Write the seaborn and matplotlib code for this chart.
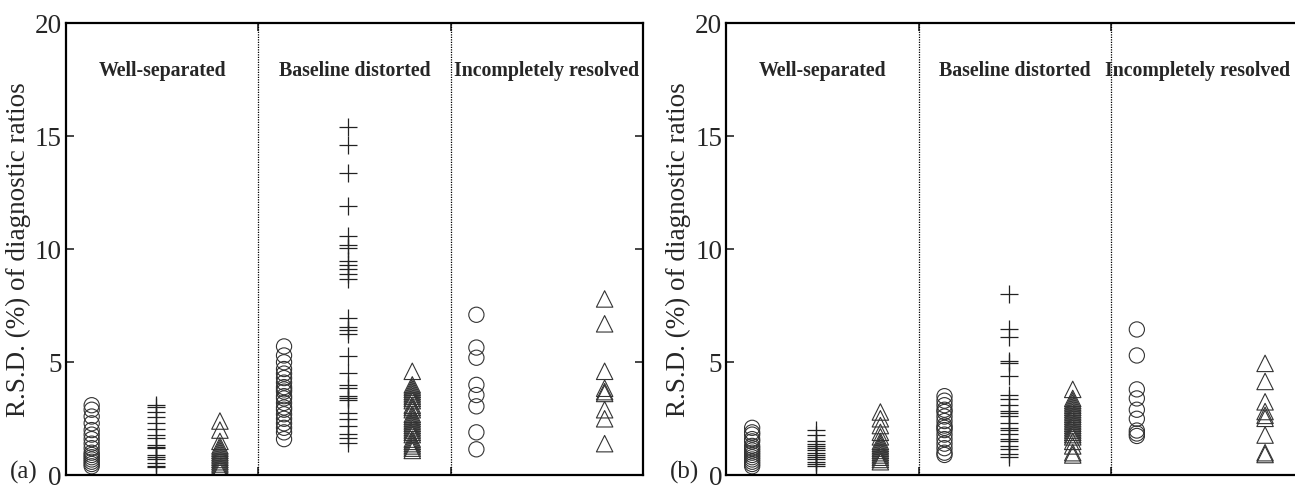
import numpy as np
import pandas as pd
import matplotlib
matplotlib.use("Agg")
import matplotlib.pyplot as plt
import seaborn as sns

# group titles and marker series (R.S.D. %)
groups = ["Well-separated", "Baseline distorted", "Incompletely resolved"]

# panel (a)
a_well_circ = [3.1, 2.9, 2.6, 2.3, 2.0, 1.8, 1.6, 1.4, 1.2, 1.0, 0.9, 0.8, 0.7, 0.6, 0.5, 0.4]
a_well_plus = [3.1, 3.0, 2.8, 2.6, 2.3, 2.05, 1.8, 1.67, 1.32, 1.27, 1.19, 0.92, 0.79, 0.72, 0.53, 0.42, 0.35]
a_well_tri = [2.4, 2.0, 1.5, 1.3, 1.2, 1.1, 1.0, 0.9, 0.8, 0.7, 0.6, 0.5, 0.4, 0.3, 0.2]
a_base_circ = [5.7, 5.3, 5.0, 4.7, 4.5, 4.3, 4.1, 3.9, 3.8, 3.7, 3.5, 3.4, 3.2, 3.0, 2.9,
               2.7, 2.5, 2.3, 2.1, 1.9, 1.6]
a_base_plus = [15.4, 14.6, 13.36, 11.9, 10.6, 10.2, 10.05, 9.5, 9.29, 9.11, 8.92, 8.7,
               6.97, 6.58, 6.43, 6.24, 5.29, 4.53, 4.01, 3.87, 3.5, 3.43, 3.35, 2.77,
               2.48, 2.18, 1.82, 1.67, 1.45]
a_base_tri = [4.6, 4.0, 3.9, 3.8, 3.7, 3.6, 3.5, 3.4, 3.3, 3.1, 3.0, 2.9, 2.7, 2.6, 2.5,
              2.4, 2.3, 2.2, 2.1, 2.0, 1.9, 1.8, 1.6, 1.5, 1.4, 1.3, 1.2, 1.1]
a_inc_circ = [7.1, 5.65, 5.2, 4.0, 3.55, 3.05, 1.9, 1.15]
a_inc_tri = [7.8, 6.7, 4.6, 3.85, 3.7, 3.62, 2.9, 2.5, 1.4]

# panel (b)
b_well_circ = [2.1, 1.9, 1.8, 1.6, 1.5, 1.3, 1.2, 1.1, 1.0, 0.9, 0.8, 0.7, 0.6, 0.5, 0.4]
b_well_plus = [2.0, 1.8, 1.5, 1.4, 1.3, 1.2, 1.1, 1.0, 0.9, 0.8, 0.7, 0.6, 0.5, 0.4]
b_well_tri = [2.8, 2.5, 2.2, 1.9, 1.7, 1.5, 1.4, 1.3, 1.2, 1.1, 1.0, 0.9, 0.8, 0.7, 0.6]
b_base_circ = [3.5, 3.3, 3.1, 2.9, 2.8, 2.6, 2.4, 2.2, 2.1, 2.0, 1.8, 1.6, 1.4, 1.2, 1.0, 0.9]
b_base_plus = [8.0, 6.46, 6.1, 5.07, 4.97, 4.38, 3.57, 3.36, 3.13, 2.84, 2.74, 2.62, 2.33,
               2.11, 1.99, 1.82, 1.6, 1.52, 1.3, 1.16, 0.94, 0.8]
b_base_tri = [3.8, 3.4, 3.3, 3.2, 3.1, 3.0, 2.9, 2.8, 2.7, 2.6, 2.5, 2.4, 2.3, 2.2, 2.1,
              2.0, 1.9, 1.8, 1.7, 1.5, 1.3, 1.0, 0.9]
b_inc_circ = [6.45, 5.3, 3.8, 3.4, 2.9, 2.5, 1.98, 1.85, 1.74]
b_inc_tri = [4.95, 4.15, 3.25, 2.82, 2.65, 2.52, 1.78, 1.0, 0.92]

panels = {
    "(a)": [[a_well_circ, a_well_plus, a_well_tri],
            [a_base_circ, a_base_plus, a_base_tri],
            [a_inc_circ, None, a_inc_tri]],
    "(b)": [[b_well_circ, b_well_plus, b_well_tri],
            [b_base_circ, b_base_plus, b_base_tri],
            [b_inc_circ, None, b_inc_tri]],
}
kinds = ["circle", "plus", "triangle"]


def to_frame(sets):
    rows = []
    for g, trio in enumerate(sets):
        for k, vals in enumerate(trio):
            if vals is None:
                continue
            for v in vals:
                rows.append({"x": g * 3 + 0.4 + k, "rsd": v, "kind": kinds[k]})
    return pd.DataFrame(rows)


sns.set_style("white")
plt.rcParams["font.family"] = ["Liberation Serif", "DejaVu Serif"]

fig = plt.figure(figsize=(12.95, 4.86), dpi=100)
boxes = [[0.051, 0.022, 0.4456, 0.9305], [0.561, 0.022, 0.4456, 0.9305]]

for box, (tag, sets) in zip(boxes, panels.items()):
    ax = fig.add_axes(box)
    df = to_frame(sets)
    circ = df[df.kind == "circle"]
    plus = df[df.kind == "plus"]
    tri = df[df.kind == "triangle"]
    sns.scatterplot(data=circ, x="x", y="rsd", marker="o", s=120, facecolor="none",
                    edgecolor="#333333", linewidth=0.8, ax=ax)
    sns.scatterplot(data=plus, x="x", y="rsd", marker="+", s=160, color="#222222",
                    linewidth=0.9, ax=ax)
    sns.scatterplot(data=tri, x="x", y="rsd", marker="^", s=140, facecolor="none",
                    edgecolor="#333333", linewidth=0.8, ax=ax)

    for xd in (3, 6):
        ax.axvline(xd, color="k", linestyle=(0, (1, 1)), linewidth=0.9)
    for g, name in enumerate(groups):
        xc = g * 3 + 1.5
        if tag == "(b)" and g == 2:
            xc -= 0.15  # panel (b) is cut at the right edge
        ax.text(xc, 17.9, name, ha="center", va="center",
                fontsize=14.3, fontweight="bold")

    ax.set_xlim(0, 9)
    ax.set_ylim(0, 20)
    ax.set_yticks([0, 5, 10, 15, 20])
    ax.set_xticks([3, 6])
    ax.set_xticklabels([])
    ax.set_xlabel("")
    ax.set_ylabel("R.S.D. (%) of diagnostic ratios", fontsize=19.5, labelpad=3)
    ax.tick_params(axis="y", direction="in", left=True, right=True, length=6,
                   width=1.2, labelsize=19.5, pad=3)
    ax.tick_params(axis="x", direction="in", bottom=True, top=True, length=6,
                   width=1.2)
    for sp in ax.spines.values():
        sp.set_visible(True)
        sp.set_color("k")
        sp.set_linewidth(1.6)
    ax.text(-0.098, 0.006, tag, transform=ax.transAxes, ha="left", va="center",
            fontsize=18)

fig.savefig("out.png", dpi=100)
